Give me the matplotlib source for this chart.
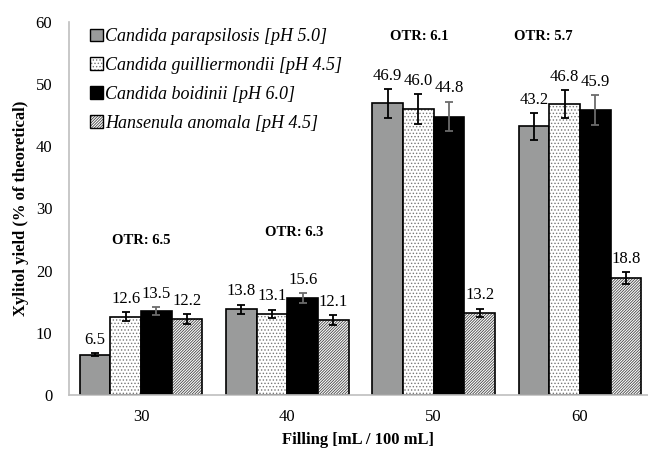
import matplotlib
matplotlib.use("Agg")
import matplotlib.pyplot as plt
from matplotlib.patches import Rectangle
from matplotlib.legend_handler import HandlerTuple
import numpy as np

plt.rcParams['font.family'] = ['Liberation Serif', 'DejaVu Serif']
plt.rcParams['hatch.linewidth'] = 0.6

categories = ['30', '40', '50', '60']
series_names = ['Candida parapsilosis [pH 5.0]', 'Candida guilliermondii [pH 4.5]',
                'Candida boidinii [pH 6.0]', 'Hansenula anomala [pH 4.5]']
c_parapsilosis = [6.5, 13.8, 46.9, 43.2]
c_guilliermondii = [12.6, 13.1, 46.0, 46.8]
c_boidinii = [13.5, 15.6, 44.8, 45.9]
h_anomala = [12.2, 12.1, 13.2, 18.8]
err_parapsilosis = [0.3, 0.75, 2.35, 2.2]
err_guilliermondii = [0.7, 0.65, 2.4, 2.3]
err_boidinii = [0.7, 0.85, 2.4, 2.4]
err_anomala = [0.75, 0.8, 0.7, 1.0]
otr_labels = ['OTR: 6.5', 'OTR: 6.3', 'OTR: 6.1', 'OTR: 5.7']
otr_pos = [(0.0, 24.8), (1.05, 26.2), (1.9, 57.6), (2.75, 57.6)]

values = [c_parapsilosis, c_guilliermondii, c_boidinii, h_anomala]
errors = [err_parapsilosis, err_guilliermondii, err_boidinii, err_anomala]
faces = ['#9a9b9b', 'white', 'black', 'white']
hatches = [None, '.....', None, '////////////']
hatch_colors = [None, '#777777', None, '#444444']
ecolors = ['black', 'black', '#6b6b6b', 'black']

fig = plt.figure(figsize=(6.48, 4.54), dpi=100)
ax = fig.add_axes([69 / 648, 0.130, 579 / 648, 0.8215])

x = np.arange(len(categories))
w = 0.21
handles = []
for i in range(4):
    pos = x + (i - 1.5) * w
    if hatches[i]:
        ax.bar(pos, values[i], width=w, color=faces[i], edgecolor=hatch_colors[i],
               linewidth=0, hatch=hatches[i], zorder=2)
        ax.bar(pos, values[i], width=w, fill=False, edgecolor='black',
               linewidth=1.2, zorder=2.1)
        hatch_patch = Rectangle((0, 0), 1, 1, facecolor=faces[i], edgecolor=hatch_colors[i],
                                linewidth=0, hatch=hatches[i])
        edge_patch = Rectangle((0, 0), 1, 1, fill=False, edgecolor='black', linewidth=1.0)
        handles.append((hatch_patch, edge_patch))
    else:
        ax.bar(pos, values[i], width=w, color=faces[i], edgecolor='black',
               linewidth=1.2, zorder=2)
        handles.append(Rectangle((0, 0), 1, 1, facecolor=faces[i], edgecolor='black', linewidth=1.0))
    ax.errorbar(pos, values[i], yerr=errors[i], fmt='none', ecolor=ecolors[i],
                elinewidth=1.3, capsize=3, capthick=1.3, zorder=3)
    for px, v, e in zip(pos, values[i], errors[i]):
        ax.annotate(f'{v:.1f}', (px, v + e), xytext=(0, 9.5), textcoords='offset points',
                    ha='center', va='center', fontsize=12)

for t, (px, py) in zip(otr_labels, otr_pos):
    ax.text(px, py, t, ha='center', va='center', fontsize=10.5, fontweight='bold')

ax.set_xlim(-0.492, 3.465)
ax.set_ylim(0, 60)
ax.set_yticks(range(0, 61, 10))
ax.set_xticks(x)
ax.set_xticklabels(categories)
ax.tick_params(axis='both', length=0, labelsize=12)
ax.tick_params(axis='x', pad=10)
ax.tick_params(axis='y', pad=12)
for s in ['top', 'right']:
    ax.spines[s].set_visible(False)
for s in ['left', 'bottom']:
    ax.spines[s].set_color('#bfbfbf')
    ax.spines[s].set_linewidth(1.2)

ax.set_ylabel('Xylitol yield (% of theoretical)', fontsize=12, fontweight='bold', labelpad=5)
ax.set_xlabel('Filling [mL / 100 mL]', fontsize=12, fontweight='bold', labelpad=5)

leg = ax.legend(handles, series_names, loc='upper left', bbox_to_anchor=(0.015, 1.017), frameon=False,
                prop={'style': 'italic', 'size': 13}, handlelength=0.7, handleheight=0.7,
                handletextpad=0.12, labelspacing=0.65, borderaxespad=0.3,
                handler_map={tuple: HandlerTuple(ndivide=1, pad=0)})

fig.savefig('out.png', dpi=100)
